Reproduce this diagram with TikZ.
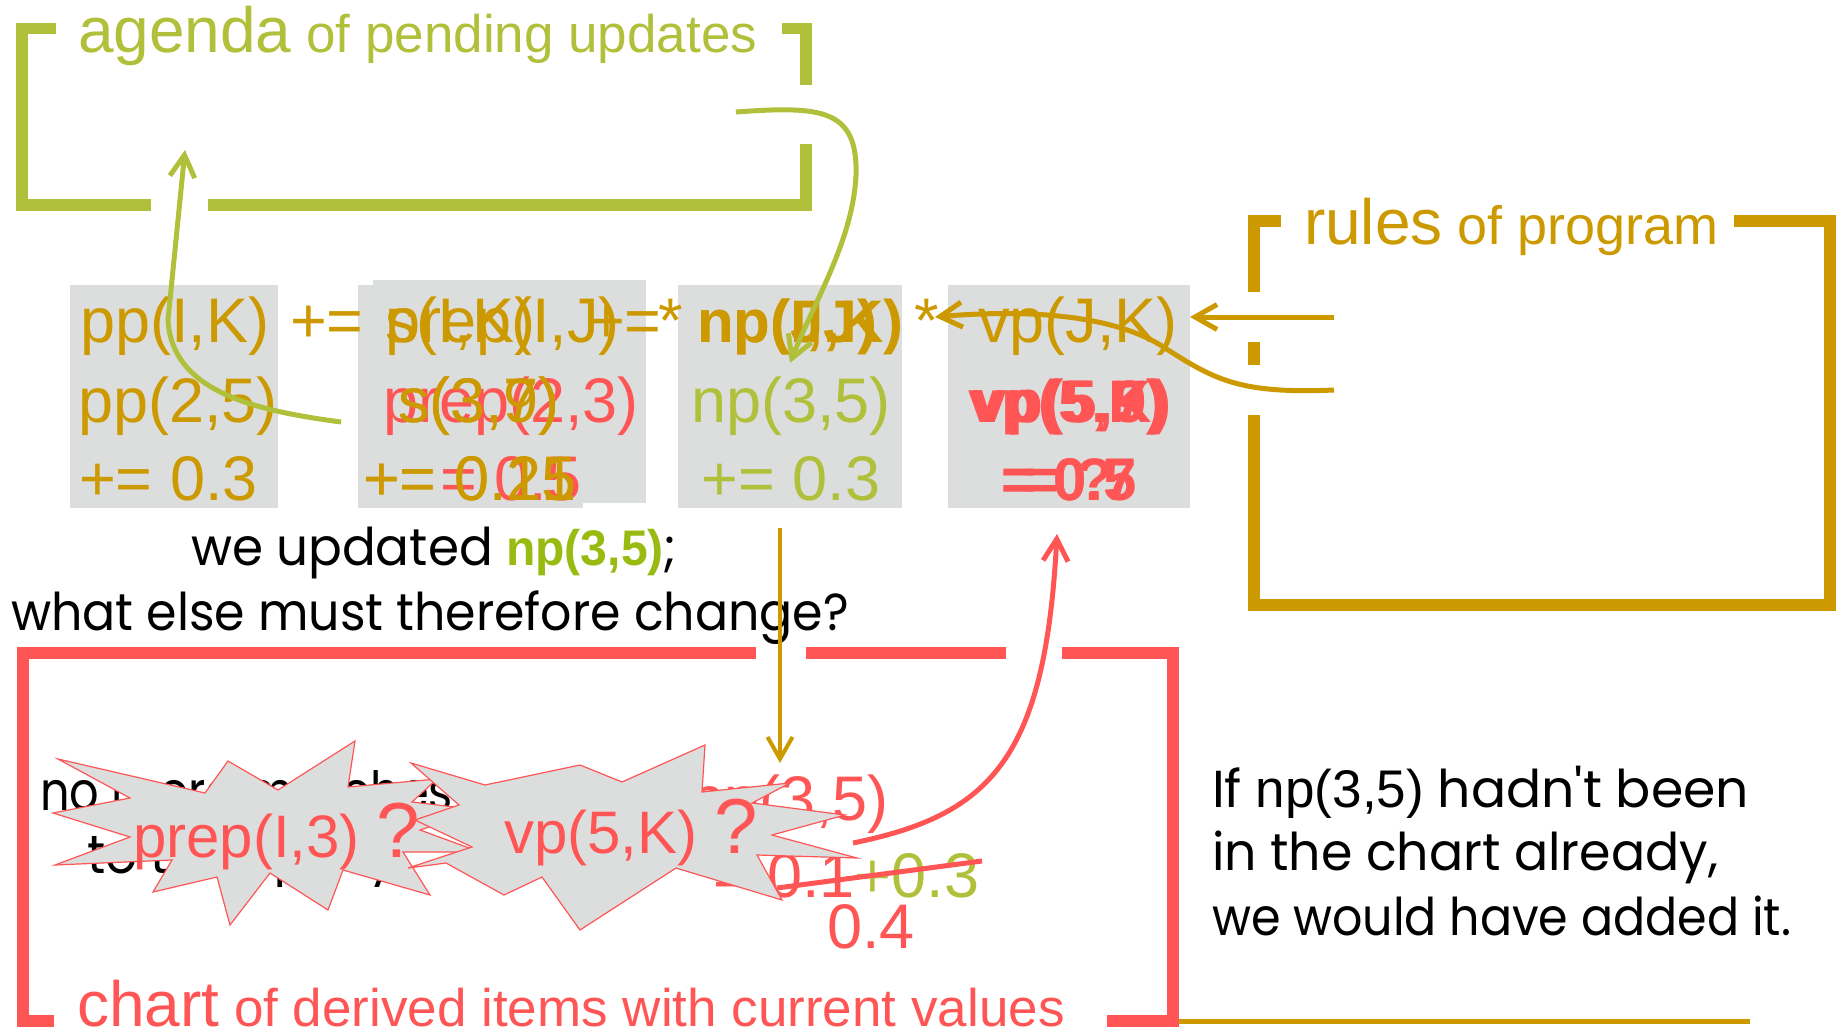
\documentclass[tikz,border=0pt]{standalone}
\usepackage{fontspec}
\usepackage{graphicx}
\setmainfont{Liberation Sans}
\newfontfamily\hand{Poppins}
\usetikzlibrary{arrows.meta}
\definecolor{agendagreen}{RGB}{176,192,58}
\definecolor{npgreen}{RGB}{153,187,17}
\definecolor{rulegold}{RGB}{204,153,0}
\definecolor{chartred}{RGB}{255,85,85}
\definecolor{itemgray}{RGB}{220,222,221}
\newcommand\fsz[1]{\fontsize{#1}{#1}\selectfont}
% set a line to a given width, keeping its height
\newcommand\fitw[2]{\resizebox{#1}{\height}{#2}}
\begin{document}
\begin{tikzpicture}[x=1pt,y=-1pt,
  lbl/.style={inner sep=0pt,outer sep=0pt,anchor=base west},
  clbl/.style={inner sep=0pt,outer sep=0pt,anchor=base},
  item/.style={lbl,font=\fsz{63}},
  citem/.style={clbl,font=\fsz{63}},
  bitem/.style={lbl,font=\fsz{60}\bfseries},
  cbitem/.style={clbl,font=\fsz{60}\bfseries},
  cell/.style={fill=itemgray,inner sep=0pt,outer sep=0pt},
  head/.style={lbl,font=\fsz{64}},
  talk/.style={lbl,font=\hand\fsz{52}},
  ctalk/.style={clbl,font=\hand\fsz{52}},
  burst/.style={fill=itemgray,draw=chartred,line width=1.2pt,line join=miter},
  barb/.style={-{Straight Barb[length=22pt,width=25pt]}},
  agarrow/.style={barb,draw=agendagreen,line width=5pt},
  rlarrow/.style={barb,draw=rulegold,line width=5pt},
  charrow/.style={barb,draw=chartred,line width=5pt},
]
\useasboundingbox (0,0) rectangle (1841,1032);

% ---------- agenda bracket ----------
\begin{scope}[fill=agendagreen]
  \fill (16,23) rectangle (56,34);
  \fill (16,23) rectangle (28,211);
  \fill (16,199) rectangle (151,211);
  \fill (208,199) rectangle (812,211);
  \fill (800,23) rectangle (812,85);
  \fill (800,144) rectangle (812,211);
  \fill (782,23) rectangle (812,34);
\end{scope}
\node[head,text=agendagreen] (agendaT) at (78,53) {agenda\fsz{53} of pending updates};

% ---------- rules bracket ----------
\begin{scope}[fill=rulegold]
  \fill (1248,215) rectangle (1281,227);
  \fill (1248,215) rectangle (1260,292);
  \fill (1248,342) rectangle (1260,365);
  \fill (1248,415) rectangle (1260,611);
  \fill (1248,599) rectangle (1836,611);
  \fill (1824,215) rectangle (1836,611);
  \fill (1734,215) rectangle (1836,227);
\end{scope}
\node[head,text=rulegold] (rulesT) at (1304,245) {rules\fsz{54} of program};

% ---------- chart bracket ----------
\begin{scope}[fill=chartred]
  \fill (17,647) rectangle (756,659);
  \fill (806,647) rectangle (1006,659);
  \fill (1062,647) rectangle (1179,659);
  \fill (17,647) rectangle (29,1027);
  \fill (17,1015) rectangle (54,1027);
  \fill (1167,647) rectangle (1179,1027);
  \fill (1107,1015) rectangle (1179,1027);
\end{scope}
\fill[rulegold] (1179,1019) rectangle (1750,1024);
\node[head,text=chartred] (chartT) at (77,1026) {chart\fsz{53} of derived items with current values};

% ---------- item cells ----------
\node[cell,minimum width=208,minimum height=223] (b1) at (174,396.5) {};
\node[cell,minimum width=225,minimum height=223] (b2a) at (470.5,396.5) {};
\node[cell,minimum width=273,minimum height=223] (b2b) at (509.5,391.5) {};
\node[cell,minimum width=224,minimum height=223] (b3) at (790,396.5) {};
\node[cell,minimum width=242,minimum height=223] (b4) at (1069,396.5) {};

% row 1: the rules
\node[item,text=rulegold] (r1a) at (80,342) {pp(I,K)};
\node[item,text=rulegold] (r1b) at (290,342) {+=};
\node[item,text=rulegold] (r1c) at (385,342) {prep(I,J)};
\node[item,text=rulegold] (r1d) at (385,342) {s(I,K)};
\node[item,text=rulegold] (r1e) at (588,342) {+=};
\node[item,text=rulegold] (r1f) at (658,342) {*};
\node[bitem,text=rulegold] (r1g) at (697,342) {np(I,J)};
\node[bitem,text=rulegold] (r1h) at (697,342) {np(J,K)};
\node[item,text=rulegold] (r1i) at (914,342) {*};
\node[item,text=rulegold] (r1j) at (978,342) {vp(J,K)};

% row 2: the instantiated items
\node[item,text=rulegold] (r2a) at (78,422) {pp(2,5)};
\node[item,text=chartred] (r2b) at (383,422) {prep(2,3)};
\node[item,text=rulegold] (r2c) at (398,422) {s(3,9)};
\node[item,text=rulegold] (r2d) at (398,422) {s(3,7)};
\node[citem,text=agendagreen] (r2e) at (791,422) {np(3,5)};
\node[cbitem,text=chartred] (r2f) at (1070,422) {vp(5,K)};
\node[cbitem,text=chartred] (r2g) at (1070,422) {vp(5,7)};
\node[cbitem,text=chartred] (r2h) at (1070,422) {vp(5,9)};

% row 3: the values
\node[item,text=rulegold] (r3a) at (79,500) {+= 0.3};
\node[item,text=chartred] (r3b) at (440,500) {= 0.5};
\node[item,text=rulegold] (r3c) at (363,500) {+= 0.21};
\node[item,text=rulegold] (r3d) at (363,500) {+= 0.15};
\node[citem,text=agendagreen] (r3e) at (791,500) {+= 0.3};
\node[cbitem,text=chartred] (r3f) at (1069,500) {= 0.7};
\node[cbitem,text=chartred] (r3g) at (1069,500) {= 0.5};
\node[cbitem,text=chartred] (r3h) at (1069,500) {= ?};

% ---------- question text ----------
\node[lbl,font=\hand\fsz{52}] (q1) at (191,565)
  {\fitw{486pt}{we updated {\rmfamily\bfseries\fsz{50}\color{npgreen}np(3,5)};}};
\node[lbl,font=\hand\fsz{52}] (q2) at (11,630) {\fitw{838pt}{what else must therefore change?}};

% ---------- chart contents ----------
\node[lbl,font=\hand\fsz{54}] (nm1) at (40,810) {\fitw{413pt}{no more matches}};
\node[lbl,font=\hand\fsz{54}] (nm2) at (87,873) {\fitw{310pt}{to this query}};
\node[item,text=chartred] (c1) at (689,820) {np(3,5)};
\node[item,text=chartred] (c2) at (713,897) {= 0.1\textcolor{agendagreen}{+0.3}};
\node[item,text=chartred] (c3) at (827,948) {0.4};
\coordinate (sA) at (777,888);
\coordinate (sB) at (982,861);
\draw[chartred,line width=5pt] (sA) -- (sB);

% query bursts
\filldraw[burst] (58,759) -- (205,793) -- (228,761) -- (278,790) -- (355,741) -- (348,787)
  -- (437,779) -- (412,802) -- (480,810) -- (420,830) -- (480,852) -- (403,852)
  -- (430,895) -- (343,870) -- (328,910) -- (270,873) -- (230,925) -- (217,877)
  -- (153,892) -- (172,860) -- (55,865) -- (130,837) -- (53,813) -- (130,798) -- cycle;
\node[lbl,text=chartred,font=\fsz{60}] (qa) at (133,857) {prep(I,3) {\fsz{78}?}};
\filldraw[burst] (411,763) -- (485,785) -- (580,765) -- (622,782) -- (705,745) -- (702,792)
  -- (790,783) -- (752,803) -- (845,815) -- (772,835) -- (857,858) -- (757,855)
  -- (782,900) -- (676,868) -- (580,930) -- (542,877) -- (504,895) -- (446,863)
  -- (408,868) -- (472,847) -- (415,820) -- (459,805) -- cycle;
\node[lbl,text=chartred,font=\fsz{60}] (qb) at (504,853) {vp(5,K) {\fsz{78}?}};

% ---------- side remark ----------
\node[talk] (s1) at (1212,807) {\fitw{537pt}{If {\rmfamily\fsz{53}np(3,5)} hadn't been}};
\node[talk] (s2) at (1212,870) {\fitw{506pt}{in the chart already,}};
\node[talk] (s3) at (1212,935) {\fitw{579pt}{we would have added it.}};

% ---------- connectors ----------
\coordinate (popS) at (341,422);
\coordinate (popE) at (185,150);
\draw[agarrow] (popS) .. controls (250,410) and (172,390) .. (168,320) -- (popE);
\coordinate (pushS) at (736,112);
\coordinate (pushE) at (790,363);
\draw[agarrow] (pushS) .. controls (820,106) and (858,108) .. (856,175)
  .. controls (853,240) and (815,300) .. (pushE);
\coordinate (ruleA) at (1334,317);
\draw[rlarrow] (ruleA) -- (b4.east |- ruleA);
\coordinate (ruleB) at (1334,390);
\coordinate (ruleBE) at (935,317);
\draw[rlarrow] (ruleB) .. controls (1240,394) and (1215,380) .. (1165,348)
  .. controls (1120,318) and (1040,308) .. (ruleBE);
\coordinate (downS) at (780,528);
\coordinate (downE) at (780,763);
\draw[barb,rulegold,line width=4pt] (downS) -- (downE);
\coordinate (upS) at (853,843);
\coordinate (upE) at (1057,534);
\draw[charrow] (upS) .. controls (990,815) and (1045,760) .. (upE);
\end{tikzpicture}
\end{document}
